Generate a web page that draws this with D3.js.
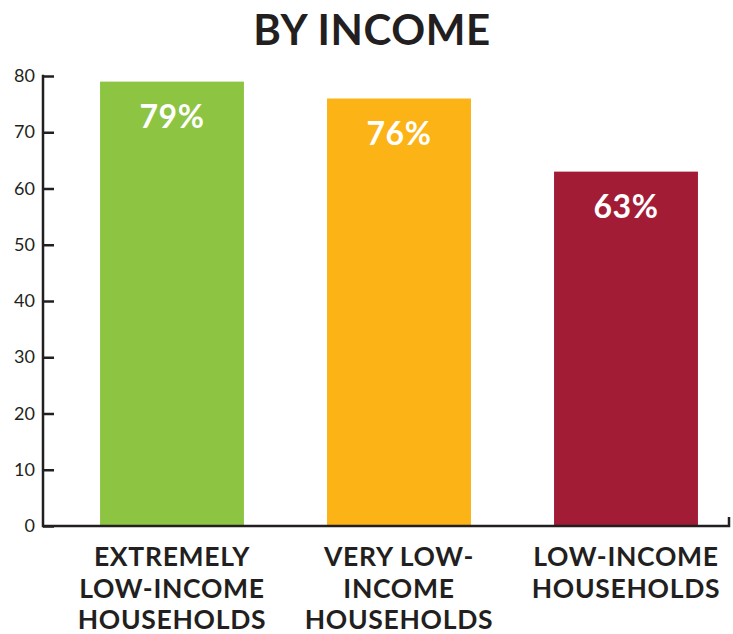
<!DOCTYPE html>
<html><head><meta charset="utf-8">
<script src="https://cdn.jsdelivr.net/npm/d3@7"></script>
<style>body{margin:0;background:#fff;} svg{display:block;}</style>
</head><body>
<svg id="c" width="733" height="634"></svg>
<script>
const title = "BY INCOME";
const categories = ["EXTREMELY|LOW-INCOME|HOUSEHOLDS", "VERY LOW-|INCOME|HOUSEHOLDS", "LOW-INCOME|HOUSEHOLDS"];
const values = [79, 76, 63];
const valueLabels = ["79%", "76%", "63%"];
const colors = ["#8dc442", "#fbb316", "#a31c36"];
const yTicks = [0, 10, 20, 30, 40, 50, 60, 70, 80];

const svg = d3.select("#c");
const ink = "#231f20";
const font = "Lato, 'Open Sans', sans-serif";
const axisX = 43, axisRight = 729, y0 = 526, yTop = 76;

const y = d3.scaleLinear().domain([0, 80]).range([y0, yTop]);
const x = d3.scaleBand().domain(d3.range(categories.length)).range([58.5, 739.5]).paddingInner(0.366).paddingOuter(0.183);

svg.append("text").attr("x", 372).attr("y", 45).attr("text-anchor", "middle")
  .attr("font-family", font).attr("font-weight", 700).attr("font-size", 42)
  .attr("letter-spacing", 0.6).attr("fill", ink).text(title);

// bars
svg.selectAll("rect.bar").data(values).join("rect").attr("class", "bar")
  .attr("x", (d, i) => x(i)).attr("width", x.bandwidth())
  .attr("y", d => y(d)).attr("height", d => y0 - y(d))
  .attr("fill", (d, i) => colors[i]);

svg.selectAll("text.val").data(values).join("text").attr("class", "val")
  .attr("x", (d, i) => x(i) + x.bandwidth() / 2).attr("y", d => y(d) + 46)
  .attr("text-anchor", "middle").attr("font-family", font).attr("font-weight", 700)
  .attr("font-size", 32).attr("letter-spacing", 0.5).attr("fill", "#fff").text((d, i) => valueLabels[i]);

// y axis
const ya = svg.append("g").attr("transform", `translate(${axisX},0)`)
  .call(d3.axisRight(y).tickValues(yTicks).tickSize(11).tickFormat(""));
ya.select(".domain").remove();
ya.selectAll(".tick line").attr("stroke", ink).attr("stroke-width", 2.5);
svg.append("line").attr("x1", axisX).attr("x2", axisX).attr("y1", yTop - 1.2).attr("y2", y0 + 1.2)
  .attr("stroke", ink).attr("stroke-width", 2.5);
svg.selectAll("text.yt").data(yTicks).join("text").attr("class", "yt")
  .attr("x", 35).attr("y", d => y(d) + 6).attr("text-anchor", "end")
  .attr("font-family", font).attr("font-size", 18).attr("fill", ink).text(d => d);

// x axis
svg.append("path").attr("d", `M${axisX},${y0}H${axisRight}V${y0 - 9}`)
  .attr("fill", "none").attr("stroke", ink).attr("stroke-width", 2.5);

svg.selectAll("text.cat").data(categories).join("text").attr("class", "cat")
  .attr("x", (d, i) => x(i) + x.bandwidth() / 2).attr("y", 566)
  .attr("text-anchor", "middle").attr("font-family", font).attr("font-weight", 700)
  .attr("font-size", 26.5).attr("letter-spacing", 0.7).attr("fill", ink)
  .each(function(d) {
    const t = d3.select(this);
    d.split("|").forEach((ln, k) => {
      t.append("tspan").attr("x", t.attr("x")).attr("dy", k === 0 ? 0 : 31.5).text(ln);
    });
  });
</script>
</body></html>
